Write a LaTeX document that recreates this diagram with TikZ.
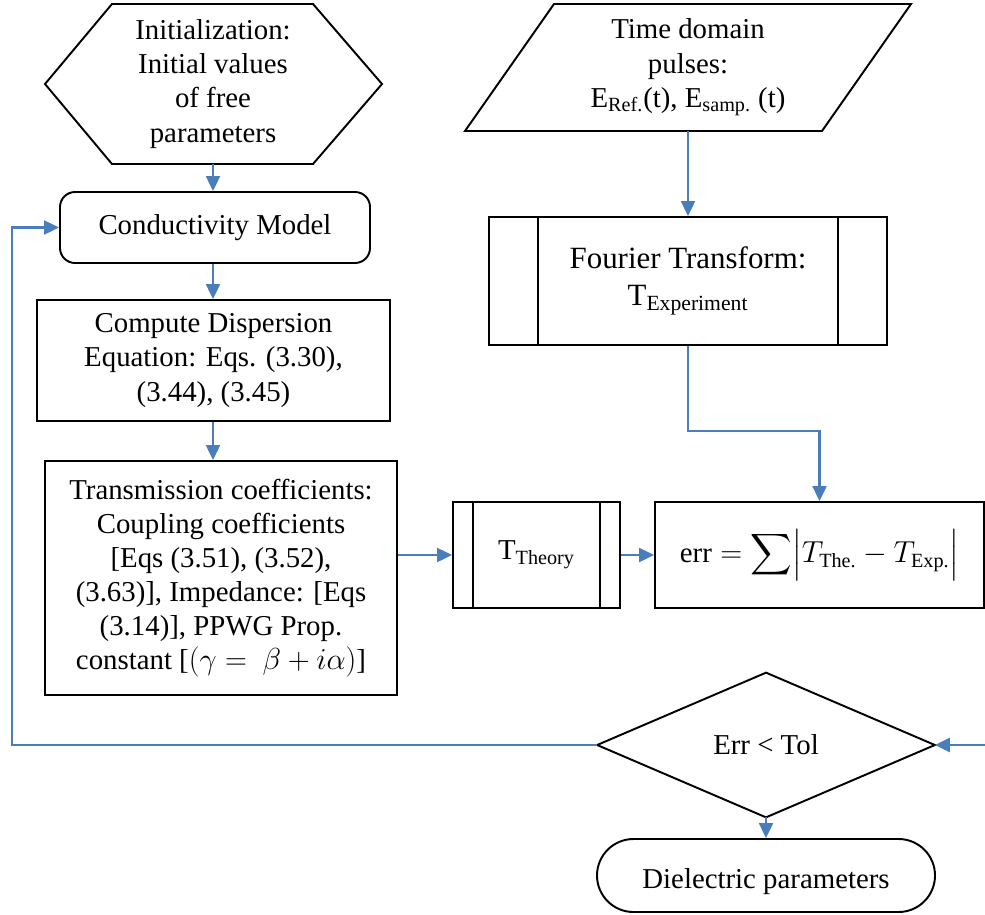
\documentclass[tikz,border=0pt]{standalone}
\usepackage{amsmath,amssymb}
\usepackage{fontspec}
\setmainfont{Liberation Serif}
\usepackage{xcolor}
\usepackage{tikz}
\usetikzlibrary{arrows.meta,calc}
\definecolor{edge}{HTML}{000000}
\definecolor{flowblue}{HTML}{4A7EBB}
\tikzset{
  outline/.style={draw=edge, line width=1.1pt, line join=miter},
  box/.style={outline, rectangle, align=center, inner sep=0pt},
  flow/.style={-{Triangle[length=0.3cm,width=0.28cm]}, line width=1.3pt, draw=flowblue},
  lab/.style={align=center, font={\fontsize{16.4}{19.4}\selectfont}},
  labl/.style={align=center, font={\fontsize{17.6}{21}\selectfont}}
}

\begin{document}
\begin{tikzpicture}
  \useasboundingbox (0,0) rectangle (19.7,-18.28);

  % left column
  \node[lab, minimum width=6.74cm, minimum height=3.2cm] (init) at (4.26,-1.68)
    {Initialization:\\Initial values\\of free\\parameters};
  \draw[outline] (0.9,-1.68) -- (2.24,-0.08) -- (6.26,-0.08) -- (7.64,-1.68)
    -- (6.26,-3.28) -- (2.24,-3.28) -- cycle;

  \node[box, lab, rounded corners=0.3cm, minimum width=6.2cm, minimum height=1.42cm] (cond)
    at (4.3,-4.55) {Conductivity Model};
  \node[box, lab, minimum width=7.06cm, minimum height=2.42cm] (disp) at (4.27,-7.21)
    {Compute Dispersion\\Equation: Eqs. (3.30),\\(3.44), (3.45)};
  \node[box, lab, minimum width=7.04cm, minimum height=4.68cm] (trans) at (4.42,-11.56)
    {Transmission coefficients:\\Coupling coefficients\\{}[Eqs (3.51), (3.52),\\(3.63)], Impedance: [Eqs\\(3.14)], PPWG Prop.\\constant [$(\gamma =\ \beta + i\alpha)$]};

  % right column
  \node[lab, minimum width=5cm, minimum height=2.54cm] (pulse) at (13.76,-1.35)
    {Time domain\\pulses:\\E\textsubscript{Ref.}(t), E\textsubscript{samp.} (t)};
  \draw[outline] (11.08,-0.08) -- (18.22,-0.08) -- (16.44,-2.62) -- (9.3,-2.62) -- cycle;

  \node[box, labl, minimum width=7.96cm, minimum height=2.56cm] (fourier) at (13.76,-5.62)
    {Fourier Transform:\\T\textsubscript{Experiment}};
  \draw[outline] ($(fourier.north west)+(1,0)$) -- ($(fourier.south west)+(1,0)$);
  \draw[outline] ($(fourier.north east)+(-1,0)$) -- ($(fourier.south east)+(-1,0)$);

  \node[box, lab, minimum width=3.34cm, minimum height=2.12cm] (theory) at (10.73,-11.1)
    {T\textsubscript{Theory}};
  \draw[outline] ($(theory.north west)+(0.42,0)$) -- ($(theory.south west)+(0.42,0)$);
  \draw[outline] ($(theory.north east)+(-0.42,0)$) -- ($(theory.south east)+(-0.42,0)$);

  \node[box, lab, minimum width=6.58cm, minimum height=2.12cm] (err) at (16.39,-11.1)
    {$\text{err} = \displaystyle\sum \Bigl|T_{\text{The.}} - T_{\text{Exp.}}\Bigr|$};

  \node[lab, minimum width=6.74cm, minimum height=2.88cm] (dec) at (15.32,-14.9) {Err < Tol};
  \draw[outline] (dec.west) -- (dec.north) -- (dec.east) -- (dec.south) -- cycle;

  \node[box, lab, rounded corners=0.73cm, minimum width=6.76cm, minimum height=1.46cm,
    text depth=0pt] (term) at (15.32,-17.51) {\raisebox{-0.12cm}{Dielectric parameters}};

  \coordinate (tolin) at (19.7,-14.9);
  \coordinate (loopx) at (0.24,-14.9);

  % connectors
  \draw[flow] (init.south) -- (init.south |- cond.north);
  \draw[flow] (init.south |- cond.south) -- (init.south |- disp.north);
  \draw[flow] (init.south |- disp.south) -- (init.south |- trans.north);
  \draw[flow] (trans.east |- theory.west) -- (theory.west);
  \draw[flow] (theory.east) -- (err.west);
  \draw[flow] (pulse.south) -- (fourier.north);
  \draw[flow] (fourier.south) -- ++(0,-1.7) -| (err.north);
  \draw[flow] (tolin) -- (dec.east);
  \draw[flow] (dec.west) -- (loopx) |- (cond.west);
  \draw[flow] (dec.south) -- (term.north);
\end{tikzpicture}
\end{document}
